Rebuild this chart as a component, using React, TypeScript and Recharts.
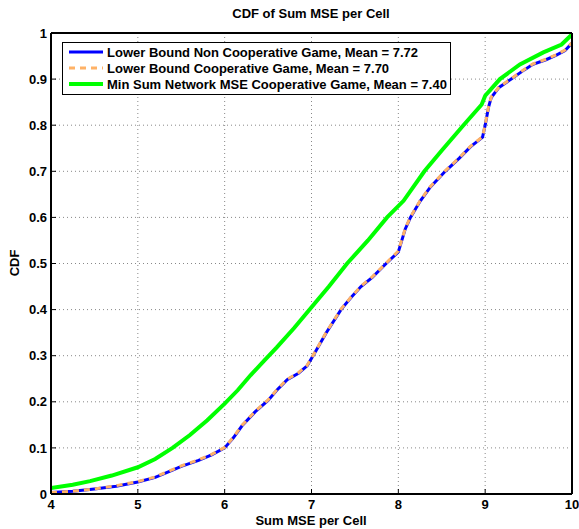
import React from "react"
import { LineChart, Line, XAxis, YAxis, CartesianGrid, Customized } from "recharts"

// Sum MSE per cell (x) against CDF (y)
const lbNonCoopX = [4.0, 4.25, 4.5, 4.75, 5.0, 5.2, 5.4, 5.5, 5.7, 5.85, 6.0, 6.1, 6.2, 6.35, 6.5, 6.6, 6.72, 6.85, 6.95, 7.05, 7.17, 7.34, 7.45, 7.57, 7.7, 7.86, 8.0, 8.08, 8.14, 8.25, 8.37, 8.54, 8.7, 8.83, 8.97, 9.0, 9.04, 9.07, 9.16, 9.3, 9.45, 9.55, 9.7, 9.82, 9.92, 10.0]
const lbNonCoopY = [0.003, 0.006, 0.011, 0.017, 0.026, 0.036, 0.052, 0.06, 0.073, 0.085, 0.1, 0.122, 0.148, 0.178, 0.203, 0.225, 0.248, 0.262, 0.278, 0.31, 0.35, 0.4, 0.425, 0.45, 0.47, 0.5, 0.525, 0.575, 0.6, 0.635, 0.666, 0.7, 0.728, 0.753, 0.774, 0.8, 0.84, 0.86, 0.882, 0.9, 0.92, 0.932, 0.942, 0.952, 0.962, 0.978]

const lbCoopX = [4.0, 4.25, 4.5, 4.75, 5.0, 5.2, 5.4, 5.5, 5.7, 5.85, 6.0, 6.1, 6.2, 6.35, 6.5, 6.6, 6.72, 6.85, 6.95, 7.05, 7.17, 7.34, 7.45, 7.57, 7.7, 7.86, 8.0, 8.08, 8.14, 8.25, 8.37, 8.54, 8.7, 8.83, 8.97, 9.0, 9.04, 9.07, 9.16, 9.3, 9.45, 9.55, 9.7, 9.82, 9.92, 10.0]
const lbCoopY = [0.003, 0.006, 0.011, 0.018, 0.027, 0.037, 0.053, 0.061, 0.074, 0.086, 0.101, 0.123, 0.149, 0.179, 0.204, 0.226, 0.249, 0.263, 0.279, 0.311, 0.351, 0.401, 0.426, 0.451, 0.471, 0.501, 0.527, 0.576, 0.601, 0.636, 0.667, 0.701, 0.729, 0.754, 0.775, 0.801, 0.841, 0.861, 0.883, 0.901, 0.921, 0.933, 0.943, 0.953, 0.963, 0.979]

const minSumX = [4.0, 4.25, 4.45, 4.7, 5.0, 5.2, 5.4, 5.6, 5.8, 6.0, 6.15, 6.3, 6.45, 6.6, 6.8, 7.0, 7.2, 7.41, 7.65, 7.87, 8.06, 8.3, 8.5, 8.75, 8.96, 9.0, 9.17, 9.4, 9.67, 9.88, 10.0]
const minSumY = [0.013, 0.02, 0.028, 0.04, 0.058, 0.076, 0.1, 0.128, 0.16, 0.196, 0.225, 0.258, 0.288, 0.318, 0.36, 0.405, 0.45, 0.5, 0.55, 0.6, 0.636, 0.7, 0.745, 0.8, 0.845, 0.864, 0.9, 0.932, 0.958, 0.975, 0.997]

const xTicks = [4, 5, 6, 7, 8, 9, 10]
const yTicks = [0, 0.1, 0.2, 0.3, 0.4, 0.5, 0.6, 0.7, 0.8, 0.9, 1]

const toPoints = (xs: number[], ys: number[]) => xs.map((x, i) => ({ x, y: ys[i] }))

const series = [
  { name: "Lower Bound Non Cooperative Game, Mean = 7.72", data: toPoints(lbNonCoopX, lbNonCoopY), color: "#0000ff", width: 3, dash: undefined },
  { name: "Lower Bound Cooperative Game, Mean = 7.70", data: toPoints(lbCoopX, lbCoopY), color: "#ffb266", width: 3, dash: "6 5" },
  { name: "Min Sum Network MSE Cooperative Game, Mean = 7.40", data: toPoints(minSumX, minSumY), color: "#00ff00", width: 4, dash: undefined },
]

const font = "'Liberation Sans', Arial, sans-serif"
const tickStyle = { fontSize: 13, fontWeight: "bold", fill: "#000", fontFamily: font }
const noTick = () => <g />

function LegendBox() {
  return (
    <div style={{
      position: "absolute", left: 62, top: 42, boxSizing: "border-box", width: 389, height: 53,
      border: "1.5px solid #000", background: "#fff", padding: "1px 0 0 6px",
      fontFamily: font, fontWeight: "bold", fontSize: 13, whiteSpace: "nowrap",
    }}>
      {series.map((s) => (
        <div key={s.name} style={{ display: "flex", alignItems: "center", height: 16 }}>
          <svg width={35} height={8} style={{ marginRight: 3, flex: "none" }}>
            <line x1={0} y1={4} x2={34} y2={4} stroke={s.color} strokeWidth={s.width} strokeDasharray={s.dash} />
          </svg>
          <span>{s.name}</span>
        </div>
      ))}
    </div>
  )
}

function Labels() {
  return (
    <g fontFamily={font} fontWeight="bold" fontSize={13} fill="#000">
      <text x={311} y={18} textAnchor="middle">CDF of Sum MSE per Cell</text>
      <text x={311} y={525} textAnchor="middle">Sum MSE per Cell</text>
      <text x={19} y={263} textAnchor="middle" transform="rotate(-90 19 263)">CDF</text>
    </g>
  )
}

export default function App() {
  return (
    <div style={{ position: "absolute", left: 0, top: 0, width: 579, height: 529, background: "#fff" }}>
      <LineChart width={579} height={529} margin={{ top: 0, right: 0, bottom: 0, left: 0 }}>
        <CartesianGrid stroke="#888" strokeDasharray="1 3" />
        <XAxis dataKey="x" type="number" domain={[4, 10]} ticks={xTicks} allowDataOverflow
          height={35} tickSize={-5} tickMargin={11} tick={tickStyle}
          axisLine={{ stroke: "#000", strokeWidth: 2 }} tickLine={{ stroke: "#000" }} />
        <XAxis xAxisId="top" orientation="top" type="number" domain={[4, 10]} ticks={xTicks}
          height={33} tickSize={-5} tick={noTick}
          axisLine={{ stroke: "#000", strokeWidth: 2 }} tickLine={{ stroke: "#000" }} />
        <YAxis dataKey="y" type="number" domain={[0, 1]} ticks={yTicks} allowDataOverflow
          width={51} tickSize={-5} tickMargin={9} tick={tickStyle}
          axisLine={{ stroke: "#000", strokeWidth: 2 }} tickLine={{ stroke: "#000" }} />
        <YAxis yAxisId="right" orientation="right" type="number" domain={[0, 1]} ticks={yTicks}
          width={7} tickSize={-5} tick={noTick}
          axisLine={{ stroke: "#000", strokeWidth: 2 }} tickLine={{ stroke: "#000" }} />
        {series.map((s) => (
          <Line key={s.name} data={s.data} dataKey="y" name={s.name} type="linear" stroke={s.color}
            strokeWidth={s.width} strokeDasharray={s.dash} dot={false} isAnimationActive={false} />
        ))}
        <Customized component={Labels} />
      </LineChart>
      <LegendBox />
    </div>
  )
}
